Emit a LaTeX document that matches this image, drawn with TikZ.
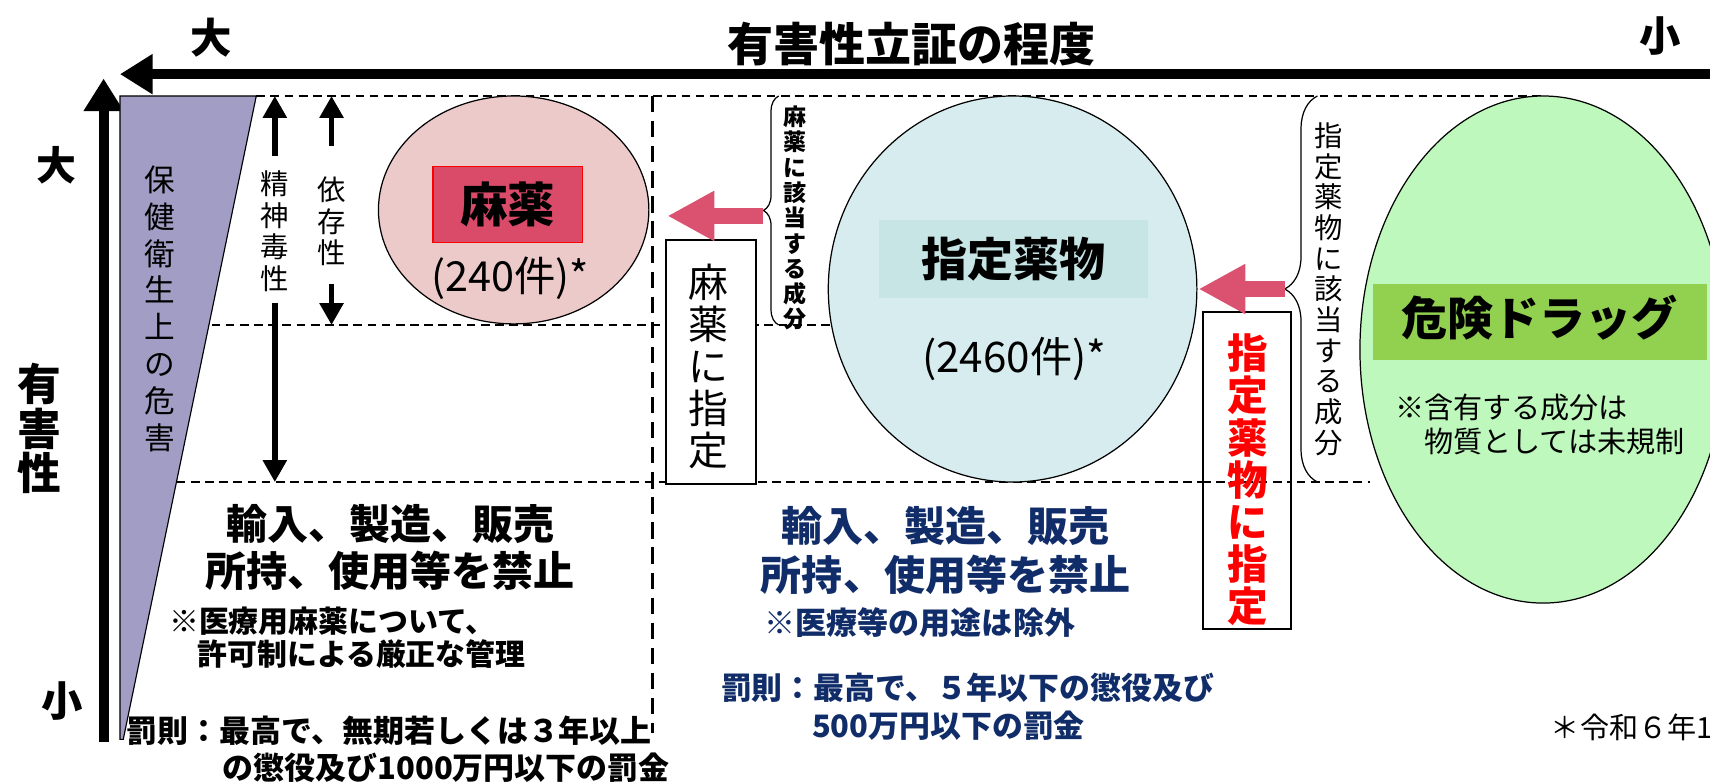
\documentclass[tikz,border=0pt]{standalone}
\usepackage{fontspec}
\setmainfont{Noto Sans CJK JP}
\usetikzlibrary{arrows.meta,shapes.geometric,decorations.pathreplacing}

\definecolor{harmpurple}{RGB}{161,157,196}
\definecolor{narcpink}{RGB}{236,202,202}
\definecolor{narcbox}{RGB}{218,75,106}
\definecolor{arrowpink}{RGB}{218,82,112}
\definecolor{desigblue}{RGB}{215,236,238}
\definecolor{desigbox}{RGB}{199,229,229}
\definecolor{dangergreen}{RGB}{190,248,188}
\definecolor{dangerband}{RGB}{146,208,80}
\definecolor{lawnavy}{RGB}{17,45,105}

\newcommand{\fsz}[2]{\fontsize{#1pt}{#2pt}\selectfont}

\begin{document}
\begin{tikzpicture}[x=0.05cm, y=-0.05cm,
  txt/.style={inner sep=0, align=center},
  ltxt/.style={inner sep=0, align=left, anchor=west},
  dashline/.style={line width=2pt, dash pattern=on 0.4cm off 0.25cm},
  sepline/.style={line width=4pt, dash pattern=on 0.75cm off 0.4cm},
  axisarrow/.style={line width=0.45cm, -{Triangle[length=1.5cm,width=1.75cm]}},
  gaugearrow/.style={line width=0.25cm, -{Triangle[length=1cm,width=1.05cm]}},
  pinkarrow/.style={arrowpink, line width=0.72cm, -{Triangle[length=2.15cm,width=2.15cm]}},
  framebox/.style={draw, fill=white, line width=2.5pt, inner sep=0},
  bracket/.style={decorate, line width=1.6pt}]

\useasboundingbox (0,0) rectangle (1568,718);
\clip (0,0) rectangle (1568,718);

% Draw the axes
\coordinate (hstart) at (1568,68);
\coordinate (hend) at (110,68);
\coordinate (vstart) at (95,680);
\coordinate (vend) at (95,72);
\draw[axisarrow] (hstart) -- (hend);
\draw[axisarrow] (vstart) -- (vend);
\node[txt, font=\fsz{54}{54}\bfseries] (bigH) at (194,35) {大};
\node[txt, font=\fsz{60}{60}\bfseries] (title) at (836,40) {有害性立証の程度};
\node[txt, font=\fsz{54}{54}\bfseries] (smallH) at (1522,33) {小};
\node[txt, font=\fsz{52}{52}\bfseries] (bigV) at (52,152) {大};
\node[txt, font=\fsz{57}{58}\bfseries] (harm) at (36,393) {有\\害\\性};
\node[txt, font=\fsz{54}{54}\bfseries] (smallV) at (57,643) {小};

% harm wedge
\filldraw[fill=harmpurple, line width=1.5pt] (110,88) -- (235,88) -- (113,678) -- (110,678) -- cycle;
\node[txt, font=\fsz{40}{48}] (hazard) at (147,283) {保\\健\\衛\\生\\上\\の\\危\\害};

% guide lines
\draw[dashline] (235,88) -- (1413,88);
\draw[dashline] (194,298) -- (765,298);
\draw[dashline] (162,442) -- (1256,442);
\draw[sepline] (598,88) -- (598,672);

% toxicity and dependence
\node[txt, font=\fsz{37}{41}] (toxic) at (252,212) {精\\神\\毒\\性};
\node[txt, font=\fsz{37}{41}] (depend) at (304,203) {依\\存\\性};
\coordinate (toxtop) at (252,88);
\coordinate (toxbot) at (252,442);
\coordinate (deptop) at (304,88);
\coordinate (depbot) at (304,298);
\draw[gaugearrow] (toxic.north |- 0,143) -- (toxtop);
\draw[gaugearrow] (toxic.south |- 0,278) -- (toxbot);
\draw[gaugearrow] (depend.north |- 0,134) -- (deptop);
\draw[gaugearrow] (depend.south |- 0,260) -- (depbot);

% narcotics
\node[draw, ellipse, fill=narcpink, line width=1.6pt, minimum width=12.4cm, minimum height=10.45cm] (narc) at (471,192.5) {};
\node[draw=red, fill=narcbox, line width=1.5pt, minimum width=6.85cm, minimum height=3.5cm, font=\fsz{62}{62}\bfseries] (narcname) at (465.5,187.5) {麻薬};
\node[txt, font=\fsz{54}{54}] (narccount) at (468,255) {(240件)*};

% designated substances
\node[draw, ellipse, fill=desigblue, line width=1.6pt, minimum width=16.9cm, minimum height=17.7cm] (desig) at (928.5,265) {};
\node[fill=desigbox, minimum width=12.35cm, minimum height=3.55cm, font=\fsz{60}{60}\bfseries] (designame) at (929.5,237.5) {指定薬物};
\node[txt, font=\fsz{55}{55}] (desigcount) at (930,329) {(2460件)*};

% dangerous drugs
\node[draw, ellipse, fill=dangergreen, line width=1.6pt, minimum width=16.8cm, minimum height=23.25cm] (danger) at (1415,320.5) {};
\node[fill=dangerband, minimum width=15.3cm, minimum height=3.5cm] (dangerbar) at (1412,295) {};
\node[txt, font=\fsz{60}{60}\bfseries] (dangername) at (1412,291) {危険ドラッグ};
\node[ltxt, font=\fsz{38}{45}] (dangernote) at (1279,389) {※含有する成分は\\\hspace{1em}物質としては未規制};

% designation boxes
\node[framebox, minimum width=4.1cm, minimum height=11.2cm] (toNarc) at (652,332) {};
\node[txt, font=\fsz{52}{55}] (toNarcText) at (650,336) {麻\\薬\\に\\指\\定};
\node[framebox, minimum width=4.05cm, minimum height=14.55cm] (toDesig) at (1143.5,431.5) {};
\draw[dashline] (toDesig.west |- 0,442) -- (toDesig.east |- 0,442);
\node[txt, font=\fsz{53}{55}\bfseries, text=red] (toDesigText) at (1144,440) {指\\定\\薬\\物\\に\\指\\定};

% braces and arrows
\draw[bracket, decoration={brace, amplitude=0.7cm}] (714,298) -- (714,88) coordinate[midway, xshift=-0.7cm] (narcTip);
\draw[bracket, decoration={brace, amplitude=1.5cm}] (1208,442) -- (1208,88) coordinate[midway, xshift=-1.5cm] (desigTip);
\node[txt, font=\fsz{30}{33}\bfseries] (narcPart) at (729,200) {麻\\薬\\に\\該\\当\\す\\る\\成\\分};
\node[txt, font=\fsz{37}{40}] (desigPart) at (1218,265) {指\\定\\薬\\物\\に\\該\\当\\す\\る\\成\\分};
\coordinate (narcHead) at (612,198);
\coordinate (desigHead) at (1099,265);
\draw[pinkarrow] (narcTip |- narcHead) -- (narcHead);
\draw[pinkarrow] (desigTip |- desigHead) -- (desigHead);

% regulations
\node[txt, font=\fsz{53.5}{62}\bfseries] (banA) at (358,502) {輸入、製造、販売\\所持、使用等を禁止};
\node[ltxt, font=\fsz{39}{43}\bfseries] (medA) at (155,585) {※医療用麻薬について、\\\hspace{0.95em}許可制による厳正な管理};
\node[ltxt, font=\fsz{40.4}{48}\bfseries] (penA) at (116,687) {罰則：最高で、無期若しくは３年以上\\\hspace{3.1em}の懲役及び1000万円以下の罰金};
\node[txt, font=\fsz{53.5}{64}\bfseries, text=lawnavy] (banB) at (867,505) {輸入、製造、販売\\所持、使用等を禁止};
\node[ltxt, font=\fsz{40.5}{44}\bfseries, text=lawnavy] (medB) at (701,571) {※医療等の用途は除外};
\node[ltxt, font=\fsz{40.3}{50}\bfseries, text=lawnavy] (penB) at (661,648) {罰則：最高で、５年以下の懲役及び\\\hspace{2.95em}500万円以下の罰金};
\node[ltxt, font=\fsz{38}{38}] (asOf) at (1422,667) {＊令和６年1};

\end{tikzpicture}
\end{document}
